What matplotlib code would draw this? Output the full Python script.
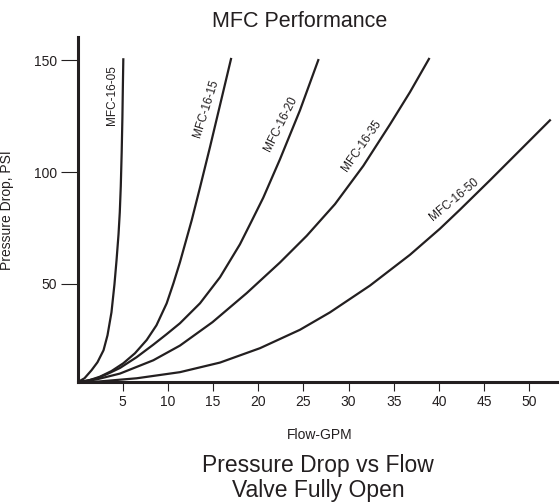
import matplotlib
matplotlib.use("Agg")
import matplotlib.pyplot as plt

plt.rcParams["font.family"] = ["Liberation Sans", "DejaVu Sans"]

INK = "#231f20"

# 곡선 데이터 (그림에서 읽은 값: 유량 GPM, 압력강하 PSI)
q_05 = [0.0, 0.77, 1.55, 2.21, 2.88, 3.32, 3.76, 4.09, 4.32, 4.54, 4.68, 4.79, 4.89, 4.97, 5.02, 5.07]
p_05 = [5.86, 7.65, 11.24, 14.82, 20.19, 26.90, 37.20, 49.73, 60.47, 72.11, 81.96, 93.60, 108.82, 124.48, 137.91, 150.45]

q_15 = [0.0, 1.22, 2.49, 3.76, 5.07, 6.36, 7.66, 8.74, 9.87, 10.62, 11.34, 12.64, 13.56, 14.66, 15.77, 16.99]
p_15 = [5.86, 6.67, 8.37, 10.88, 14.37, 18.85, 24.80, 31.38, 41.20, 50.20, 59.60, 78.40, 93.10, 111.10, 129.90, 150.60]

q_20 = [0.0, 1.06, 2.12, 3.42, 4.70, 6.53, 8.39, 9.85, 11.34, 13.56, 15.77, 17.98, 19.26, 20.56, 22.41, 24.62, 26.65]
p_20 = [5.86, 6.58, 7.56, 9.80, 12.27, 17.06, 22.70, 27.35, 32.28, 41.23, 52.87, 67.64, 77.93, 88.50, 105.70, 127.60, 150.10]

q_35 = [0.0, 2.12, 4.70, 8.39, 11.34, 14.94, 18.73, 22.41, 25.37, 28.50, 31.63, 34.58, 36.80, 38.90]
p_35 = [5.86, 7.16, 9.76, 15.71, 22.29, 32.77, 45.79, 59.49, 71.44, 85.63, 102.73, 121.26, 135.77, 150.63]

q_50 = [0.0, 2.12, 6.55, 11.34, 15.77, 20.20, 24.62, 27.94, 32.37, 36.80, 40.12, 42.33, 45.65, 48.97, 52.29]
p_50 = [5.86, 6.13, 7.65, 10.39, 14.68, 21.13, 29.36, 37.15, 49.15, 62.94, 74.62, 83.13, 96.29, 109.71, 123.14]

curves = [
    ("MFC-16-05", q_05, p_05),
    ("MFC-16-15", q_15, p_15),
    ("MFC-16-20", q_20, p_20),
    ("MFC-16-35", q_35, p_35),
    ("MFC-16-50", q_50, p_50),
]

# 라벨 위치 (x, y, 회전각)
label_pos = {
    "MFC-16-05": (3.82, 134.5, 90),
    "MFC-16-15": (14.22, 128.2, 72.6),
    "MFC-16-20": (22.52, 121.5, 63.3),
    "MFC-16-35": (31.5, 111.6, 55),
    "MFC-16-50": (41.7, 87.5, 39.6),
}

x_ticks = [5, 10, 15, 20, 25, 30, 35, 40, 45, 50]
y_ticks = [50, 100, 150]

fig = plt.figure(figsize=(5.6, 5.03), dpi=100)
ax = fig.add_axes([0.1384, 0.24, 0.8562, 0.6858])

for name, q, p in curves:
    ax.plot(q, p, color=INK, linewidth=1.6, solid_joinstyle="round")
    lx, ly, rot = label_pos[name]
    ax.text(lx, ly, name, rotation=rot, ha="center", va="center",
            fontsize=8.5, color=INK, rotation_mode="anchor")

ax.set_xlim(0, 53.07)
ax.set_ylim(5.86, 160.3)
ax.set_xticks(x_ticks)
ax.set_yticks(y_ticks)
ax.tick_params(axis="x", direction="out", length=6.5, width=0.8, pad=3,
               labelsize=10, colors=INK)
ax.tick_params(axis="y", direction="out", length=12.5, width=0.8, pad=2,
               labelsize=10, colors=INK)

for s in ["top", "right"]:
    ax.spines[s].set_visible(False)
for s in ["left", "bottom"]:
    ax.spines[s].set_linewidth(2.2)
    ax.spines[s].set_color(INK)

ax.set_ylabel("Pressure Drop, PSI", fontsize=10, color=INK)
ax.yaxis.set_label_coords(-0.132, 0.5)
ax.set_xlabel("Flow-GPM", fontsize=10, color=INK)
ax.xaxis.set_label_coords(0.506, -0.1325)

fig.text(300 / 560, 1 - 27 / 503, "MFC Performance", ha="center",
         va="baseline", fontsize=15.5, color=INK)
fig.text(318 / 560, 1 - 472 / 503, "Pressure Drop vs Flow", ha="center",
         va="baseline", fontsize=16.5, color=INK)
fig.text(318 / 560, 1 - 497 / 503, "Valve Fully Open", ha="center",
         va="baseline", fontsize=16.5, color=INK)

fig.savefig("out.png", dpi=100)
